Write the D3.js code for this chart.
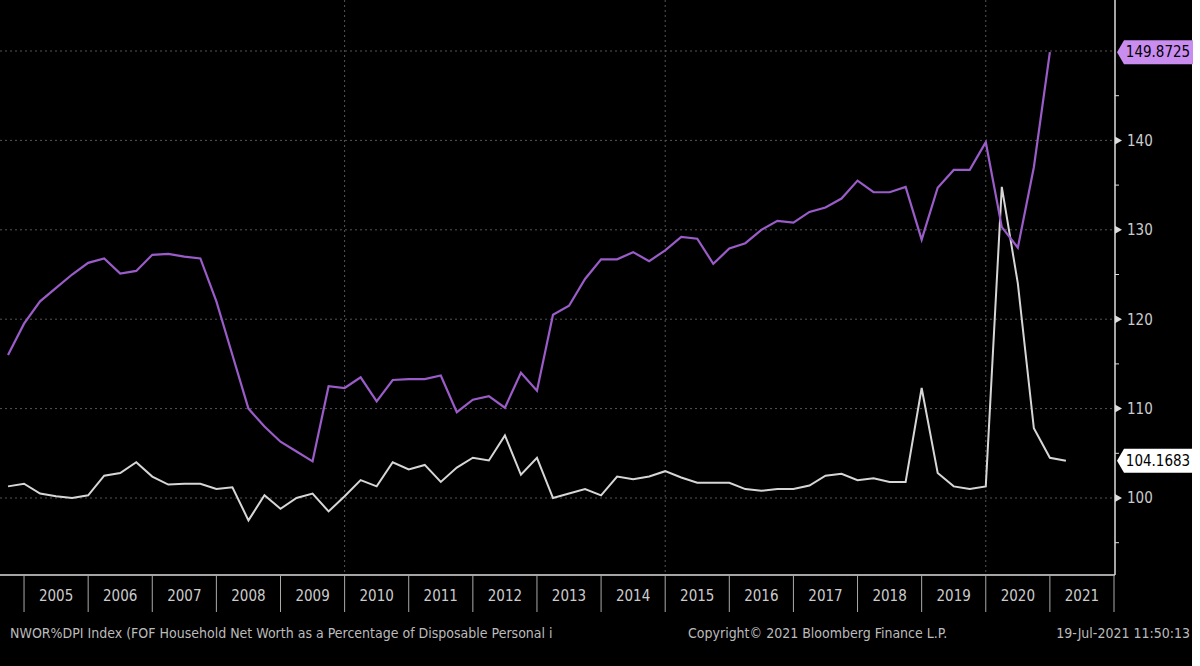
<!DOCTYPE html>
<html><head><meta charset="utf-8">
<script src="https://cdn.jsdelivr.net/npm/d3@7"></script>
<style>body{margin:0;background:#fff}svg{display:block}</style></head>
<body><svg id="c" width="1200" height="666"></svg>
<script>
const years=[2005,2006,2007,2008,2009,2010,2011,2012,2013,2014,2015,2016,2017,2018,2019,2020,2021];
const yTicks=[100,110,120,130,140];
const netWorth=[116,119.5,122,123.5,125,126.3,126.8,125.1,125.4,127.2,127.3,127,126.8,122,116,110,108,106.3,105.2,104.1,112.5,112.3,113.5,110.8,113.2,113.3,113.3,113.7,109.6,111,111.4,110.1,114,112,120.5,121.5,124.5,126.7,126.7,127.5,126.5,127.7,129.2,129,126.2,127.9,128.5,130,131,130.8,132,132.5,133.5,135.5,134.2,134.2,134.8,128.9,134.7,136.7,136.7,139.8,130.3,128,137,149.8725];
const dpi=[101.3,101.6,100.5,100.2,100,100.3,102.5,102.8,104,102.4,101.5,101.6,101.6,101,101.2,97.5,100.3,98.8,100,100.5,98.5,100.2,102,101.3,104,103.2,103.7,101.8,103.4,104.5,104.2,107,102.6,104.5,100,100.5,101,100.3,102.4,102.1,102.4,103,102.3,101.7,101.7,101.7,101,100.8,101,101,101.4,102.5,102.7,102,102.2,101.8,101.8,112.3,102.8,101.3,101,101.3,134.8,124,107.8,104.5,104.1683];
const startQ=2004.75;
const svg=d3.select("#c");
svg.append("rect").attr("width",1192).attr("height",666).attr("fill","#000");
const x=d3.scaleLinear().domain([2004.625,2022]).range([0,1114]);
const y=d3.scaleLinear().domain([150,100]).range([51,498]);
const g=svg.append("g");
// grid
yTicks.concat([150]).forEach(v=>g.append("line").attr("x1",0).attr("x2",1114).attr("y1",y(v)).attr("y2",y(v)).attr("stroke","#555").attr("stroke-dasharray","2,3"));
[2010,2015,2020].forEach(v=>g.append("line").attr("x1",x(v)).attr("x2",x(v)).attr("y1",0).attr("y2",575).attr("stroke","#555").attr("stroke-dasharray","2,3"));
// right axis
g.append("line").attr("x1",1115).attr("x2",1115).attr("y1",0).attr("y2",575).attr("stroke","#ddd").attr("stroke-width",1.5);
const ax=d3.axisRight(y).tickValues(yTicks).tickSize(0).tickPadding(12).tickFormat(d3.format("d"));
const ag=g.append("g").attr("transform","translate(1115,0)").call(ax);
ag.select(".domain").remove();
ag.selectAll("text").attr("fill","#ccc").attr("font-family","Liberation Sans Narrow, DejaVu Sans Condensed, sans-serif").attr("font-size",15);
yTicks.forEach(v=>ag.append("path").attr("d",`M0,${y(v)-4}L7,${y(v)}L0,${y(v)+4}Z`).attr("fill","#ddd"));
[95,105,115,125,135,145].forEach(v=>ag.append("line").attr("x1",0).attr("x2",4).attr("y1",y(v)).attr("y2",y(v)).attr("stroke","#ddd"));
// bottom axis
g.append("line").attr("x1",0).attr("x2",1115).attr("y1",575).attr("y2",575).attr("stroke","#ddd").attr("stroke-width",1.5);
years.forEach(yr=>{
  g.append("line").attr("x1",x(yr)).attr("x2",x(yr)).attr("y1",575).attr("y2",612).attr("stroke","#aaa");
  g.append("text").attr("x",x(yr+0.5)).attr("y",601).attr("text-anchor","middle").attr("fill","#ccc").attr("font-family","Liberation Sans Narrow, DejaVu Sans Condensed, sans-serif").attr("font-size",15).text(yr);
});
g.append("line").attr("x1",x(2022)).attr("x2",x(2022)).attr("y1",575).attr("y2",612).attr("stroke","#aaa");
// lines
const line=d3.line().x((d,i)=>x(startQ+i*0.25)).y(d=>y(d));
g.append("path").datum(dpi).attr("d",line).attr("fill","none").attr("stroke","#d6d6d6").attr("stroke-width",2);
g.append("path").datum(netWorth).attr("d",line).attr("fill","none").attr("stroke","#9a5cc8").attr("stroke-width",2.2);
// value labels
function tag(v,fill){
  const yy=y(v);
  g.append("path").attr("d",`M1117,${yy}L1124,${yy-12}H1193V${yy+12}H1124Z`).attr("fill",fill);
  g.append("text").attr("x",1158).attr("y",yy+5).attr("text-anchor","middle").attr("fill","#000").attr("font-family","Liberation Sans Narrow, DejaVu Sans Condensed, sans-serif").attr("font-size",15).text(v.toFixed(4));
}
tag(149.8725,"#c98df0");
tag(104.1683,"#fff");
// footer
const ft={fill:"#bbb","font-family":"Liberation Sans Narrow, DejaVu Sans Condensed, sans-serif","font-size":14};
function ftxt(xp,anchor,t){const e=g.append("text").attr("x",xp).attr("y",638).attr("text-anchor",anchor).text(t);Object.entries(ft).forEach(([k,v])=>e.attr(k,v));}
ftxt(10,"start","NWOR%DPI Index (FOF Household Net Worth as a Percentage of Disposable Personal i");
ftxt(688,"start","Copyright© 2021 Bloomberg Finance L.P.");
ftxt(1190,"end","19-Jul-2021 11:50:13");
</script></body></html>
